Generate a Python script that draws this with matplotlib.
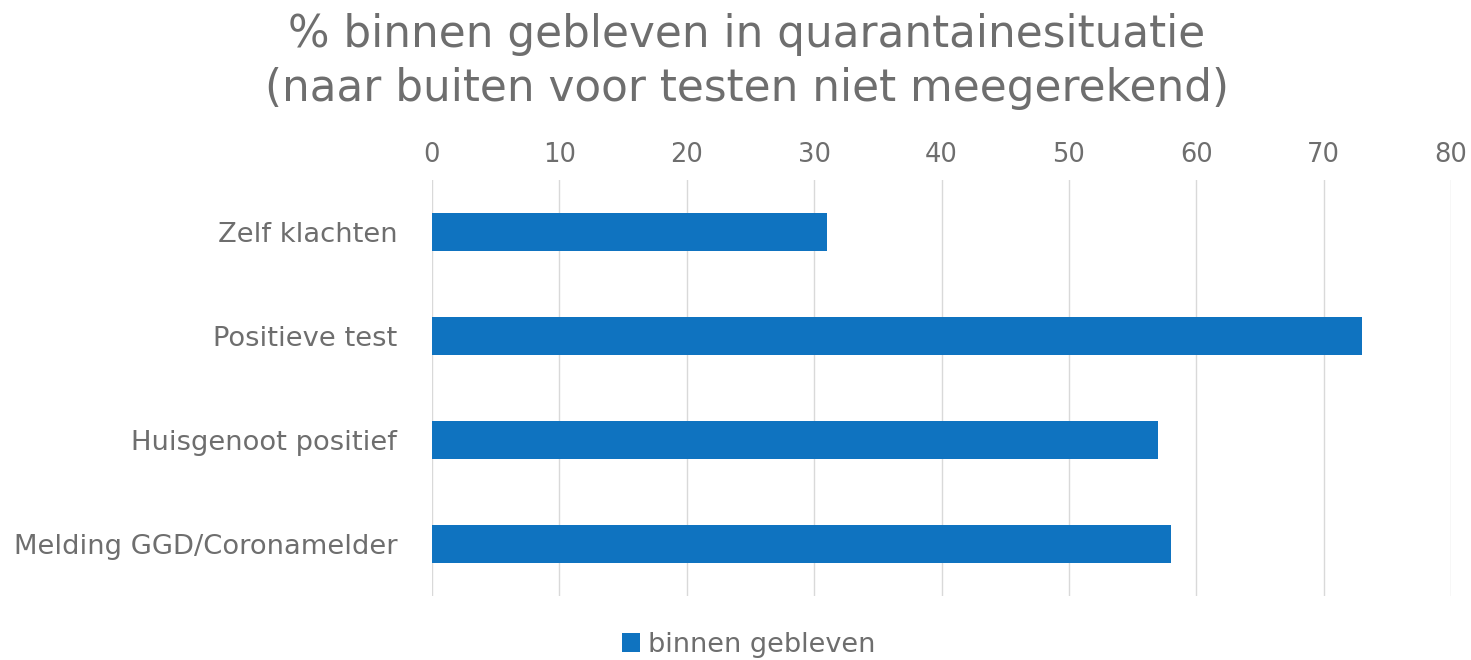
import matplotlib
matplotlib.use("Agg")
import matplotlib.pyplot as plt
from matplotlib.patches import Patch

categories = ["Zelf klachten", "Positieve test", "Huisgenoot positief", "Melding GGD/Coronamelder"]
values = [31, 73, 57, 58]
xticks = [0, 10, 20, 30, 40, 50, 60, 70, 80]
series_name = "binnen gebleven"
title = "% binnen gebleven in quarantainesituatie\n(naar buiten voor testen niet meegerekend)"

bar_color = "#0F73C0"
text_color = "#6E6E6E"
grid_color = "#D9D9D9"

plt.rcParams['font.family'] = ['DejaVu Sans']

fig = plt.figure(figsize=(14.71, 6.6), dpi=100)
ax = fig.add_axes([432/1471, 1 - 596/660, (1451-432)/1471, (596-180)/660])

ypos = list(range(len(categories)))
ax.barh(ypos, values, height=0.36, color=bar_color, zorder=3)
ax.set_ylim(len(categories) - 0.5, -0.5)
ax.set_xlim(0, 80)
ax.set_xticks(xticks)
ax.xaxis.tick_top()
ax.set_yticks(ypos)
ax.set_yticklabels(categories)
ax.tick_params(axis='both', length=0, colors=text_color)
ax.tick_params(axis='x', pad=9, labelsize=18.5)
ax.tick_params(axis='y', pad=25, labelsize=19.7)
ax.grid(axis='x', color=grid_color, linewidth=1, zorder=0)
for s in ax.spines.values():
    s.set_visible(False)

lines = title.split("\n")
fig.text(747/1471, 1 - 35/660, lines[0], ha='center', va='center', fontsize=31.5, color=text_color)
fig.text(747/1471, 1 - 88/660, lines[1], ha='center', va='center', fontsize=31.5, color=text_color)

handles = [Patch(facecolor=bar_color, label=series_name)]
fig.legend(handles=handles, loc='center', bbox_to_anchor=(749/1471, 1 - 645/660),
           frameon=False, fontsize=19.5, labelcolor=text_color,
           handlelength=0.65, handleheight=0.65, handletextpad=0.3)

fig.savefig("out.png", dpi=100, facecolor='white')
